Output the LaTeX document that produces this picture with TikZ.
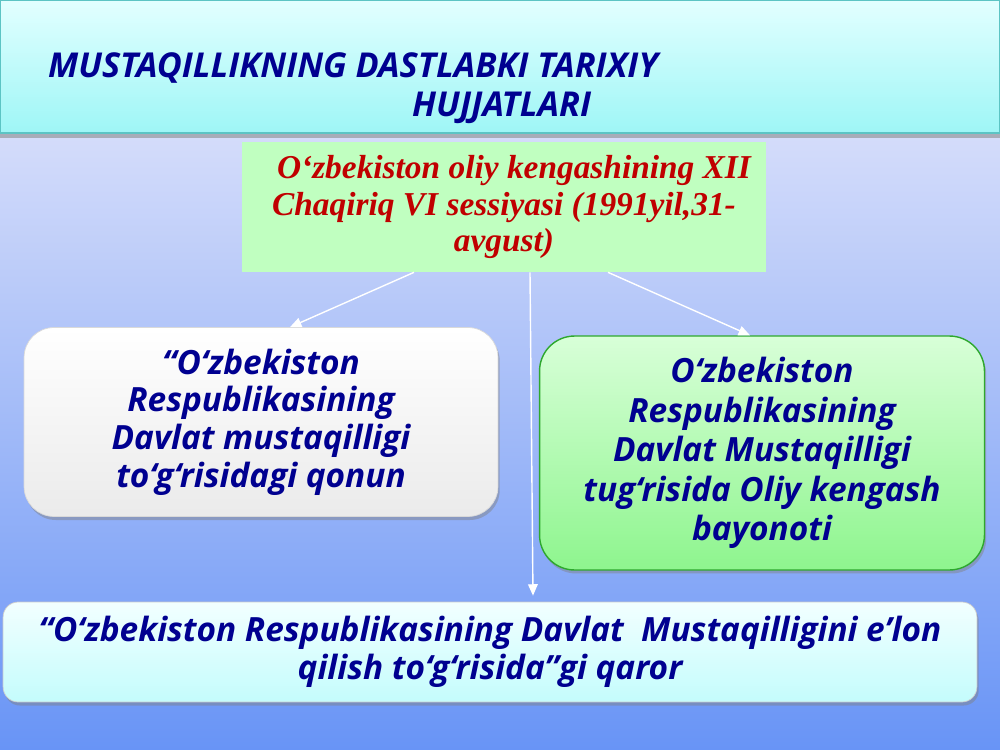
\documentclass[tikz,border=0pt]{standalone}
\usepackage{fontspec}
\usetikzlibrary{arrows.meta, positioning, shadows, calc}
\newfontfamily\bluefont{Open Sans}
\newfontfamily\redfont{Liberation Serif}
\definecolor{inkblue}{HTML}{000090}
\definecolor{inkred}{HTML}{C00000}
\definecolor{bgtop}{HTML}{ECECFB}
\definecolor{bgmid}{HTML}{B4CCF8}
\definecolor{bgbot}{HTML}{6894F6}
\definecolor{bartop}{HTML}{E2FFFF}
\definecolor{barbot}{HTML}{9EF6F6}
\definecolor{barline}{HTML}{5CC4C4}
\definecolor{sessgreen}{HTML}{C0FFC0}
\definecolor{leafgreen}{HTML}{D8FFD8}
\definecolor{deepgreen}{HTML}{8EF58E}
\definecolor{edgegreen}{HTML}{2EA82E}
\definecolor{icetop}{HTML}{F2FFFF}
\definecolor{icebot}{HTML}{C4FCFC}

\begin{document}
\begin{tikzpicture}[x=0.02cm, y=-0.02cm]
	\tikzset{
		bluetext/.style={text=inkblue, font=\bluefont\bfseries\itshape\fontsize{19}{21.5}\selectfont, align=center},
		docbox/.style={rounded corners=0.6cm, inner sep=0pt, bluetext},
		titletext/.style={anchor=base west, text=inkblue, font=\bluefont\bfseries\itshape\fontsize{19.5}{19.5}\selectfont},
		link/.style={draw=white, line width=0.8pt, -{Triangle[width=5.5pt, length=6.5pt]}}
	}

	\shade[top color=bgtop, middle color=bgmid, bottom color=bgbot] (0,0) rectangle (1000,750);
	\useasboundingbox (0,0) rectangle (1000,750);
	\fill[black!45, opacity=0.6] (0,133) rectangle (1000,138);
	\shade[top color=bartop, bottom color=barbot, draw=barline, line width=0.8pt] (0.5,0.5) rectangle (999.5,133);

	\node[titletext] (title) at (42,78) {MUSTAQILLIKNING DASTLABKI TARIXIY};
	\node[titletext] (title2) at (406,116) {HUJJATLARI};

	\node[fill=sessgreen, minimum width=10.48cm, minimum height=2.6cm, inner sep=0pt, align=center,
		text=inkred, font=\redfont\bfseries\itshape\fontsize{19}{21}\selectfont] (chaqiriq) at (504,207)
		{\hspace*{0.4cm}O‘zbekiston oliy kengashining XII\\Chaqiriq VI sessiyasi (1991yil,31-\\avgust)};

	\node[docbox, top color=white, bottom color=black!8, draw=black!15, minimum width=9.48cm, minimum height=3.78cm,
		drop shadow={opacity=0.45, shadow xshift=1pt, shadow yshift=-2pt}] (qonun) at (261,422)
		{“O‘zbekiston\\Respublikasining\\ Davlat mustaqilligi\\to‘g‘risidagi qonun};

	\node[docbox, top color=leafgreen, bottom color=deepgreen, draw=edgegreen, line width=0.8pt, minimum width=8.9cm, minimum height=4.68cm,
		rounded corners=0.7cm, drop shadow={opacity=0.45, shadow xshift=1pt, shadow yshift=-2pt},
		font=\bluefont\bfseries\itshape\fontsize{19}{22.4}\selectfont] (bayonot) at (762,453)
		{O‘zbekiston\\Respublikasining\\Davlat Mustaqilligi\\tug‘risida Oliy kengash\\bayonoti};

	\node[docbox, rounded corners=0.3cm, top color=icetop, bottom color=icebot, draw=black!20, minimum width=19.48cm, minimum height=2cm,
		drop shadow={opacity=0.45, shadow xshift=1pt, shadow yshift=-2pt}] (qaror) at (490,652)
		{“O‘zbekiston Respublikasining Davlat \ Mustaqilligini e’lon\\qilish to‘g‘risida”gi qaror};

	\draw[link] ([xshift=-1.8cm]chaqiriq.south) -- ([xshift=0.58cm]qonun.north);
	\draw[link] ([xshift=0.52cm]chaqiriq.south) -- ([xshift=0.86cm, yshift=0.12cm]qaror.north);
	\draw[link] ([xshift=2.08cm]chaqiriq.south) -- ([xshift=-0.24cm]bayonot.north);
\end{tikzpicture}
\end{document}
